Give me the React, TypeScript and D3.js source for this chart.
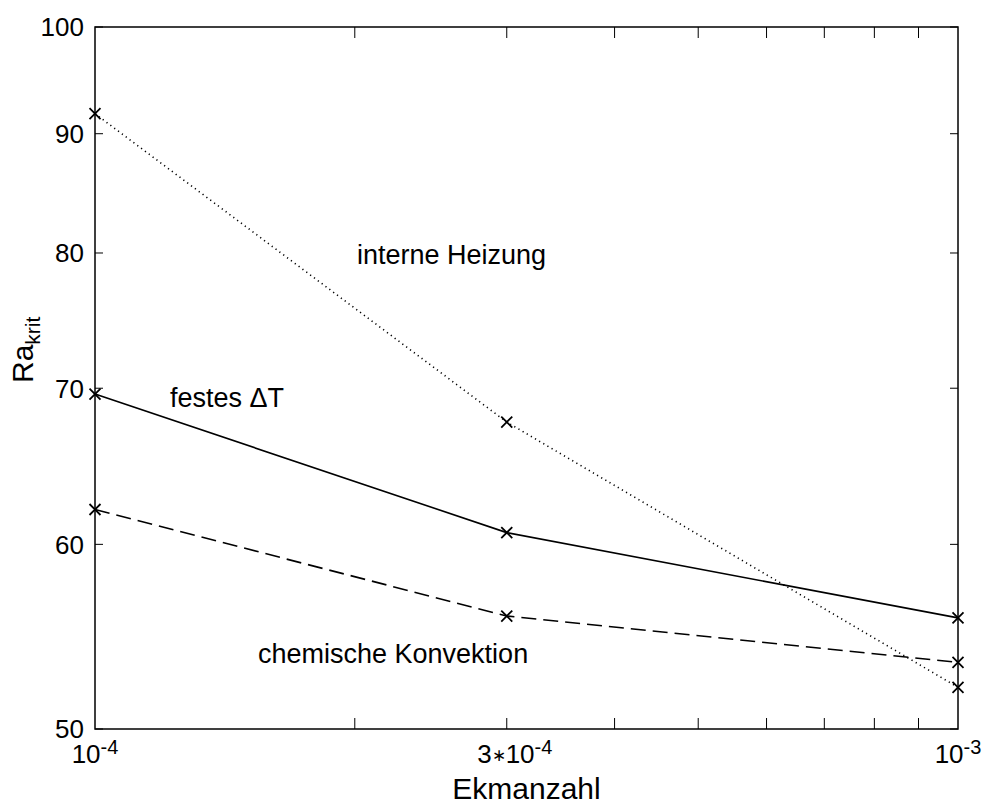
import React from "react";
import * as d3 from "d3";

// Ekman numbers at which the critical Rayleigh numbers were computed
const ekman = [1e-4, 3e-4, 1e-3];

// Critical Rayleigh numbers for the three heating modes
const interneHeizung = [91.8, 67.7, 52.1];
const festesDeltaT = [69.6, 60.7, 55.8];
const chemischeKonvektion = [62.1, 55.9, 53.4];

// Axis ticks
const yTicks = [50, 60, 70, 80, 90, 100];
const xMinorTicks = [2e-4, 3e-4, 4e-4, 5e-4, 6e-4, 7e-4, 8e-4, 9e-4];
const xLabels = [
  { v: 1e-4, pre: "", base: "10", exp: "-4" },
  { v: 3e-4, pre: "3", base: "10", exp: "-4" },
  { v: 1e-3, pre: "", base: "10", exp: "-3" },
];

const W = 989;
const H = 807;
const M = { left: 95, right: 958, top: 27, bottom: 729 };
const FONT = "'Liberation Sans', Arial, Helvetica, sans-serif";

export default function App() {
  const x = d3.scaleLog().domain([1e-4, 1e-3]).range([M.left, M.right]);
  const y = d3.scaleLog().domain([50, 100]).range([M.bottom, M.top]);

  const line = d3
    .line<[number, number]>()
    .x((d) => x(d[0]))
    .y((d) => y(d[1]));

  const series = [
    { values: interneHeizung, dash: "1.2,3.6" },
    { values: festesDeltaT, dash: "none" },
    { values: chemischeKonvektion, dash: "15,7" },
  ];

  const xTickLen = 11;
  const yTickLen = 8;
  const mk = 5.5;

  return (
    <svg
      width={W}
      height={H}
      style={{ position: "absolute", left: 0, top: 0, background: "#fff" }}
      fontFamily={FONT}
    >
      <rect x={0} y={0} width={W} height={H} fill="#fff" />

      {/* x ticks, bottom and top */}
      {xMinorTicks.map((t) => (
        <g key={"xt" + t} stroke="#000" strokeWidth={1}>
          <line x1={x(t)} x2={x(t)} y1={M.bottom} y2={M.bottom - xTickLen} />
          <line x1={x(t)} x2={x(t)} y1={M.top} y2={M.top + xTickLen} />
        </g>
      ))}

      {/* y ticks, left and right */}
      {yTicks.map((t) => (
        <g key={"yt" + t} stroke="#000" strokeWidth={1}>
          <line x1={M.left} x2={M.left + yTickLen} y1={y(t)} y2={y(t)} />
          <line x1={M.right} x2={M.right - yTickLen} y1={y(t)} y2={y(t)} />
        </g>
      ))}

      {/* axes box */}
      <rect
        x={M.left}
        y={M.top}
        width={M.right - M.left}
        height={M.bottom - M.top}
        fill="none"
        stroke="#000"
        strokeWidth={1.5}
      />

      {/* y tick labels */}
      {yTicks.map((t) => (
        <text
          key={"yl" + t}
          x={84}
          y={y(t)}
          dy="0.36em"
          textAnchor="end"
          fontSize={26}
          fill="#000"
        >
          {t}
        </text>
      ))}

      {/* x tick labels */}
      {xLabels.map((l) => (
        <text
          key={"xl" + l.v}
          x={x(l.v) + (l.pre ? 8 : 0)}
          y={763}
          textAnchor="middle"
          fontSize={26}
          fill="#000"
        >
          {l.pre}
          {l.pre ? (
            <tspan fontSize={17} dy={-2}>
              {"\u2217"}
            </tspan>
          ) : null}
          <tspan dy={l.pre ? 2 : 0}>{l.base}</tspan>
          <tspan fontSize={20} dy={-9}>
            {l.exp}
          </tspan>
        </text>
      ))}

      {/* data lines */}
      {series.map((s, i) => (
        <path
          key={"s" + i}
          d={line(ekman.map((e, j) => [e, s.values[j]] as [number, number])) || ""}
          fill="none"
          stroke="#000"
          strokeWidth={1.6}
          strokeDasharray={s.dash}
        />
      ))}

      {/* cross markers */}
      {series.map((s, i) =>
        ekman.map((e, j) => {
          const cx = x(e);
          const cy = y(s.values[j]);
          return (
            <path
              key={"m" + i + "-" + j}
              d={`M${cx - mk},${cy - mk}L${cx + mk},${cy + mk}M${cx - mk},${cy + mk}L${cx + mk},${cy - mk}`}
              stroke="#000"
              strokeWidth={1.8}
            />
          );
        })
      )}

      {/* curve annotations */}
      <text x={357} y={264} fontSize={27} fill="#000">
        interne Heizung
      </text>
      <text x={170} y={407} fontSize={27} fill="#000">
        festes ΔT
      </text>
      <text x={258} y={663} fontSize={27} fill="#000">
        chemische Konvektion
      </text>

      {/* axis labels */}
      <text
        x={(M.left + M.right) / 2}
        y={799}
        textAnchor="middle"
        fontSize={30}
        fill="#000"
      >
        Ekmanzahl
      </text>
      <text
        transform={`translate(33,383) rotate(-90)`}
        textAnchor="start"
        fontSize={30}
        fill="#000"
      >
        Ra
        <tspan fontSize={21} dy={7}>
          krit
        </tspan>
      </text>
    </svg>
  );
}
